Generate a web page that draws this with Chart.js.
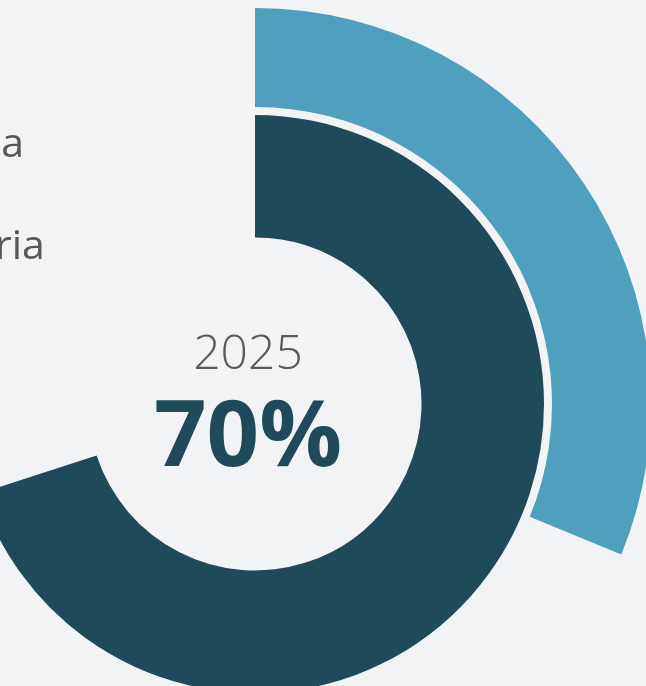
<!DOCTYPE html>
<html>
<head>
<meta charset="utf-8">
<script src="https://cdn.jsdelivr.net/npm/chart.js@4"></script>
<style>
  html, body { margin: 0; padding: 0; background: #f2f3f5; overflow: hidden; width: 646px; height: 686px; }
  #ring { position: absolute; left: -141px; top: 8px; }
</style>
</head>
<body>
<canvas id="ring" width="792" height="792"></canvas>
<script>
const seriesLabels = ['Média', 'Trajetória'];
const metaValue = 31.2;
const trajValue = 70;
const yearLabel = '2025';
const palette = ['#4f9fbf', '#1e4a59'];

// legend labels sit mostly off the left edge, as in the original crop
const sideLegend = {
    id: 'sideLegend',
    afterDraw(chart) {
        const c = chart.ctx;
        const left = 141;
        c.save();
        c.font = '400 41px "Open Sans"';
        c.fillStyle = '#585858';
        c.textAlign = 'left';
        c.textBaseline = 'alphabetic';
        // first label: everything but its last letter falls just outside the page
        const first = seriesLabels[0];
        const prefix = c.measureText(first.slice(0, -1));
        c.fillText(first, left - 1 - prefix.actualBoundingBoxRight, 149);
        // second label: ink ends at x = 42
        const second = c.measureText(seriesLabels[1]);
        c.fillText(seriesLabels[1], left + 42 - second.actualBoundingBoxRight, 251);
        c.restore();
    }
};

const centerText = {
    id: 'centerText',
    afterDraw(chart) {
        const c = chart.ctx;
        const arc = chart.getDatasetMeta(2).data[0];
        const x = arc.x - 7;
        const y = arc.y;
        c.save();
        c.textAlign = 'center';
        c.textBaseline = 'alphabetic';
        c.fillStyle = '#5a5a5a';
        c.font = '300 48px "Open Sans"';
        c.fillText(yearLabel, x, y - 35);
        c.fillStyle = palette[1];
        c.font = '700 92px "Open Sans"';
        c.fillText(trajValue + '%', x, y + 62);
        c.restore();
    }
};

new Chart(document.getElementById('ring').getContext('2d'), {
    type: 'doughnut',
    data: {
        labels: ['valor', 'restante'],
        datasets: [
            {
                label: seriesLabels[0],
                data: [metaValue, 100 - metaValue],
                backgroundColor: [palette[0], 'rgba(0,0,0,0)'],
                weight: 99
            },
            {
                label: 'gap',
                data: [100],
                backgroundColor: ['rgba(0,0,0,0)'],
                weight: 8
            },
            {
                label: seriesLabels[1],
                data: [trajValue, 100 - trajValue],
                backgroundColor: [palette[1], 'rgba(0,0,0,0)'],
                weight: 122.5
            }
        ]
    },
    options: {
        responsive: false,
        animation: false,
        devicePixelRatio: 1,
        cutout: '42.05%',
        borderWidth: 0,
        events: [],
        plugins: {
            legend: { display: false },
            tooltip: { enabled: false }
        }
    },
    plugins: [sideLegend, centerText]
});
</script>
</body>
</html>
